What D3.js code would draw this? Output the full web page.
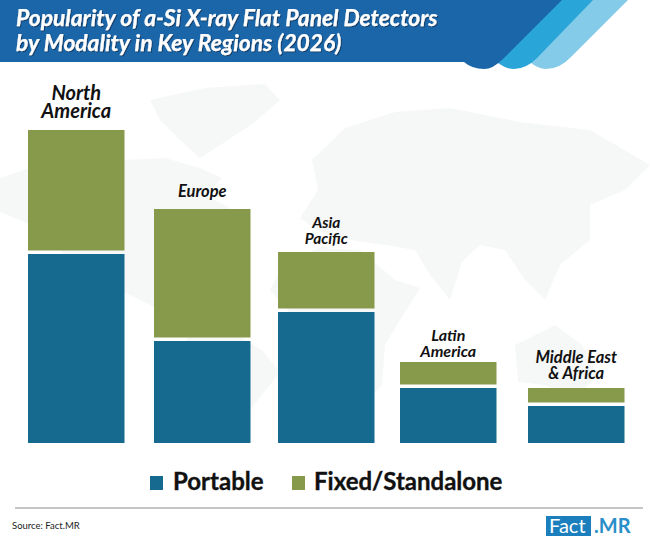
<!DOCTYPE html>
<html><head><meta charset="utf-8">
<script src="https://cdn.jsdelivr.net/npm/d3@7/dist/d3.min.js"></script>
<style>html,body{margin:0;padding:0;background:#fff}svg{display:block}</style></head>
<body><svg id="c" width="650" height="551"></svg>
<script>
const categories=["North America","Europe","Asia Pacific","Latin America","Middle East & Africa"];
const categoryLines=[["North","America"],["Europe"],["Asia","Pacific"],["Latin","America"],["Middle East","& Africa"]];
const portable=[189,102,131,55,37];
const fixedStandalone=[124,132,60,26,18];
const seriesNames=["Portable","Fixed/Standalone"];
const titleLines=["Popularity of a-Si X-ray Flat Panel Detectors","by Modality in Key Regions (2026)"];
const colors=["#166a8f","#87994a"];
const font="Lato, 'Open Sans', sans-serif";
const svg=d3.select("#c");
const defs=svg.append("defs");
const f=defs.append("filter").attr("id","ts").attr("x","-5%").attr("y","-20%").attr("width","110%").attr("height","140%");
f.append("feDropShadow").attr("dx",1).attr("dy",1).attr("stdDeviation",0.7).attr("flood-color","#0a2c4a").attr("flood-opacity",0.7);

// faint world map backdrop
const map=[
 "M 0 178 L 30 168 L 75 172 L 125 160 L 165 158 L 200 168 L 222 178 L 205 196 L 225 205 L 250 222 L 232 240 L 218 262 L 212 288 L 190 298 L 178 320 L 150 305 L 110 285 L 70 262 L 45 232 L 15 218 L 0 212 Z",
 "M 150 100 L 205 88 L 265 84 L 280 100 L 255 122 L 225 142 L 200 158 L 180 140 L 160 120 Z",
 "M 185 322 L 225 328 L 262 350 L 280 372 L 258 400 L 238 425 L 222 443 L 210 430 L 208 395 L 190 365 Z",
 "M 312 160 L 345 128 L 395 112 L 450 108 L 520 122 L 590 130 L 650 165 L 625 190 L 590 205 L 590 240 L 560 265 L 545 300 L 525 280 L 505 250 L 480 245 L 462 262 L 450 300 L 430 275 L 415 250 L 385 245 L 350 240 L 320 232 L 300 218 L 318 190 Z",
 "M 285 262 L 320 248 L 360 250 L 395 280 L 420 288 L 400 320 L 385 345 L 382 385 L 358 410 L 342 402 L 335 355 L 320 325 L 292 315 L 270 290 Z",
 "M 515 345 L 555 325 L 582 345 L 598 375 L 575 398 L 545 385 L 518 382 Z"];
svg.append("g").selectAll("path").data(map).join("path").attr("d",d=>d).attr("fill","#f6f7f7");

// header bands
svg.append("path").attr("d","M 540 0 L 628 0 L 572 56 Q 560 69 546 69 Q 538 69 530 62 Z").attr("fill","#83cbe8");
svg.append("path").attr("d","M 500 0 L 593 0 L 537 58 Q 526 69 514 69 Q 505 69 497 62 Z").attr("fill","#29a5d8");
svg.append("path").attr("d","M 0 0 L 562 0 L 503 59 Q 493 69 484 69 Q 472 69 464 62 L 0 62 Z").attr("fill","#1a66a8");

svg.append("g").selectAll("text").data(titleLines).join("text")
 .attr("x",16).attr("y",(d,i)=>26+i*25).attr("fill","#fff").attr("stroke","#fff").attr("stroke-width",0.25).attr("filter","url(#ts)")
 .attr("font-family",font).attr("font-weight",700).attr("font-style","italic").attr("font-size",22.8).text(d=>d);

const x=d3.scaleOrdinal().domain(categories).range([28,154,278,400,528]);
const barWidth=96.5, gap=3.5;
const y=d3.scaleLinear().domain([0,313]).range([443,130]);
const rows=categories.map((c,i)=>({category:c,Portable:portable[i],"Fixed/Standalone":fixedStandalone[i],lines:categoryLines[i]}));
const stacked=d3.stack().keys(seriesNames)(rows);
const color=d3.scaleOrdinal().domain(seriesNames).range(colors);
svg.append("g").selectAll("g").data(stacked).join("g").attr("fill",d=>color(d.key))
 .selectAll("rect").data(d=>d).join("rect")
 .attr("x",d=>x(d.data.category)).attr("width",barWidth)
 .attr("y",d=>y(d[1]))
 .attr("height",d=>y(d[0])-y(d[1])-(d[0]>0?gap:0));

const labelSize=[20,16.5,15.5,16,16.5], lead=[18,0,16.5,16,16], labelUp=[12,12,8,5,9];
const lg=svg.append("g");
rows.forEach((r,i)=>{
 const top=y(r.Portable+r["Fixed/Standalone"]);
 const n=r.lines.length;
 r.lines.forEach((t,j)=>{
  lg.append("text").attr("x",x(r.category)+barWidth/2).attr("y",top-labelUp[i]-(n-1-j)*lead[i])
   .attr("text-anchor","middle").attr("font-family",font).attr("font-weight",700).attr("font-style","italic")
   .attr("font-size",labelSize[i]).attr("fill","#111").text(t);
 });
});

// legend
const legendX=[150,292], legendTextX=[173,314];
seriesNames.forEach((s,i)=>{
 svg.append("rect").attr("x",legendX[i]).attr("y",476).attr("width",13).attr("height",14).attr("fill",colors[i]);
 svg.append("text").attr("x",legendTextX[i]).attr("y",490).attr("font-family",font).attr("font-weight",700)
  .attr("font-size",24).attr("fill","#111").attr("stroke","#111").attr("stroke-width",0.35).text(s);
});
svg.append("line").attr("x1",15).attr("x2",643).attr("y1",508).attr("y2",508).attr("stroke","#8c8c8c").attr("stroke-width",1.2);
svg.append("text").attr("x",12).attr("y",529).attr("font-family",font).attr("font-size",9.5).attr("fill","#222").text("Source: Fact.MR");
svg.append("rect").attr("x",546).attr("y",516).attr("width",45).attr("height",20).attr("fill","#1b7fbd");
svg.append("text").attr("x",549).attr("y",533).attr("font-family",font).attr("font-size",20).attr("fill","#fff").text("Fact");
svg.append("text").attr("x",594).attr("y",533).attr("font-family",font).attr("font-weight",700).attr("font-size",20).attr("fill","#2a8ec9").text(".MR");
</script></body></html>
